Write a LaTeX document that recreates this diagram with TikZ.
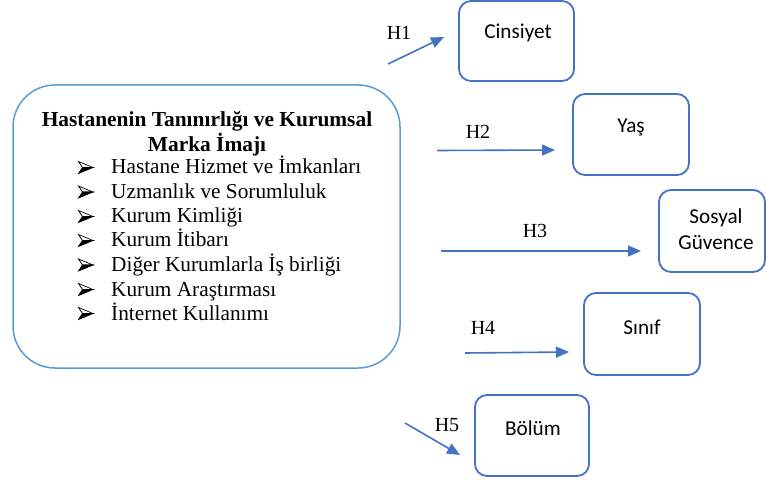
\documentclass[tikz,border=0pt]{standalone}
\usepackage{fontspec}
\setmainfont{Liberation Serif}
\newfontfamily\calfont{Carlito}
\usetikzlibrary{arrows.meta}
\definecolor{boxblue}{HTML}{4472C4}
\definecolor{bigblue}{HTML}{5B9BD5}
\tikzset{
  smallbox/.style={draw=boxblue, line width=1.8pt, rounded corners=12pt, inner sep=0pt},
  bigbox/.style={draw=bigblue, line width=1.5pt, rounded corners=42pt, inner sep=0pt},
  boxtext/.style={font=\calfont\fontsize{21.2}{26}\selectfont, align=center, inner sep=0pt},
  hlabel/.style={font=\fontsize{20}{22}\selectfont, inner sep=0pt},
  bodytext/.style={font=\fontsize{21.3}{24}\selectfont, inner sep=0pt, anchor=base west},
  titletext/.style={font=\bfseries\fontsize{21.4}{24}\selectfont, inner sep=0pt, anchor=base},
  hyp/.style={draw=boxblue, line width=1.6pt, -{Triangle[length=13pt,width=11pt]}},
  bulletarrow/.pic={
    \draw[line width=0.7pt, line join=miter, fill=white] (0,-6) -- (14.5,0) -- (4,0) -- cycle;
    \fill[black] (4,0) -- (14.5,0) -- (0,6) -- cycle;
    \draw[line width=0.7pt, line join=miter] (4,0) -- (14.5,0) -- (0,6) -- cycle;
  }
}
\begin{document}
\begin{tikzpicture}[x=1pt,y=-1pt]
\useasboundingbox (0,0) rectangle (766,481);
% big box
\node[bigbox, minimum width=387pt, minimum height=283pt] (main) at (206.5,226.5) {};
\node[titletext] (t1) at (207,127) {Hastanenin Tanınırlığı ve Kurumsal};
\node[titletext] (t2) at (207,152) {Marka İmajı};
\foreach \y/\txt [count=\i] in {174/Hastane Hizmet ve İmkanları, 198.5/Uzmanlık ve Sorumluluk, 223/Kurum Kimliği, 247/Kurum İtibarı, 271.5/Diğer Kurumlarla İş birliği, 296/Kurum Araştırması, 320/İnternet Kullanımı}{
  \pic at (78.5,\y-6.5) {bulletarrow};
  \node[bodytext] (l\i) at (111,\y) {\txt};
}
% small boxes
\node[smallbox, minimum width=115pt, minimum height=80pt] (cins) at (516.5,41) {};
\node[boxtext] (cinst) at (518,33) {Cinsiyet};
\node[smallbox, minimum width=116pt, minimum height=81pt] (yas) at (631,134.5) {};
\node[boxtext] (yast) at (631,127) {Yaş};
\node[smallbox, minimum width=106pt, minimum height=82pt] (sos) at (712,231) {};
\node[boxtext] (sost) at (716,229.5) {Sosyal\\Güvence};
\node[smallbox, minimum width=116pt, minimum height=82pt] (sin) at (642,334) {};
\node[boxtext] (sint) at (642,327) {Sınıf};
\node[smallbox, minimum width=114pt, minimum height=81pt] (bol) at (532,435.5) {};
\node[boxtext] (bolt) at (533,428) {Bölüm};
% hypothesis labels
\node[hlabel] (h1) at (399,33) {H1};
\node[hlabel] (h2) at (478,132) {H2};
\node[hlabel] (h3) at (535,231) {H3};
\node[hlabel] (h4) at (483,328) {H4};
\node[hlabel] (h5) at (447,425) {H5};
% arrow endpoints
\coordinate (a1s) at (388,64); \coordinate (a1e) at (444,37);
\coordinate (a2s) at (437,150.5); \coordinate (a2e) at (555,150);
\coordinate (a3s) at (441,251); \coordinate (a3e) at (641,251);
\coordinate (a4s) at (465,353); \coordinate (a4e) at (569,352);
\coordinate (a5s) at (405,423); \coordinate (a5e) at (460,455);
\draw[hyp] (a1s) -- (a1e);
\draw[hyp] (a2s) -- (a2e);
\draw[hyp] (a3s) -- (a3e);
\draw[hyp] (a4s) -- (a4e);
\draw[hyp] (a5s) -- (a5e);
\end{tikzpicture}
\end{document}
